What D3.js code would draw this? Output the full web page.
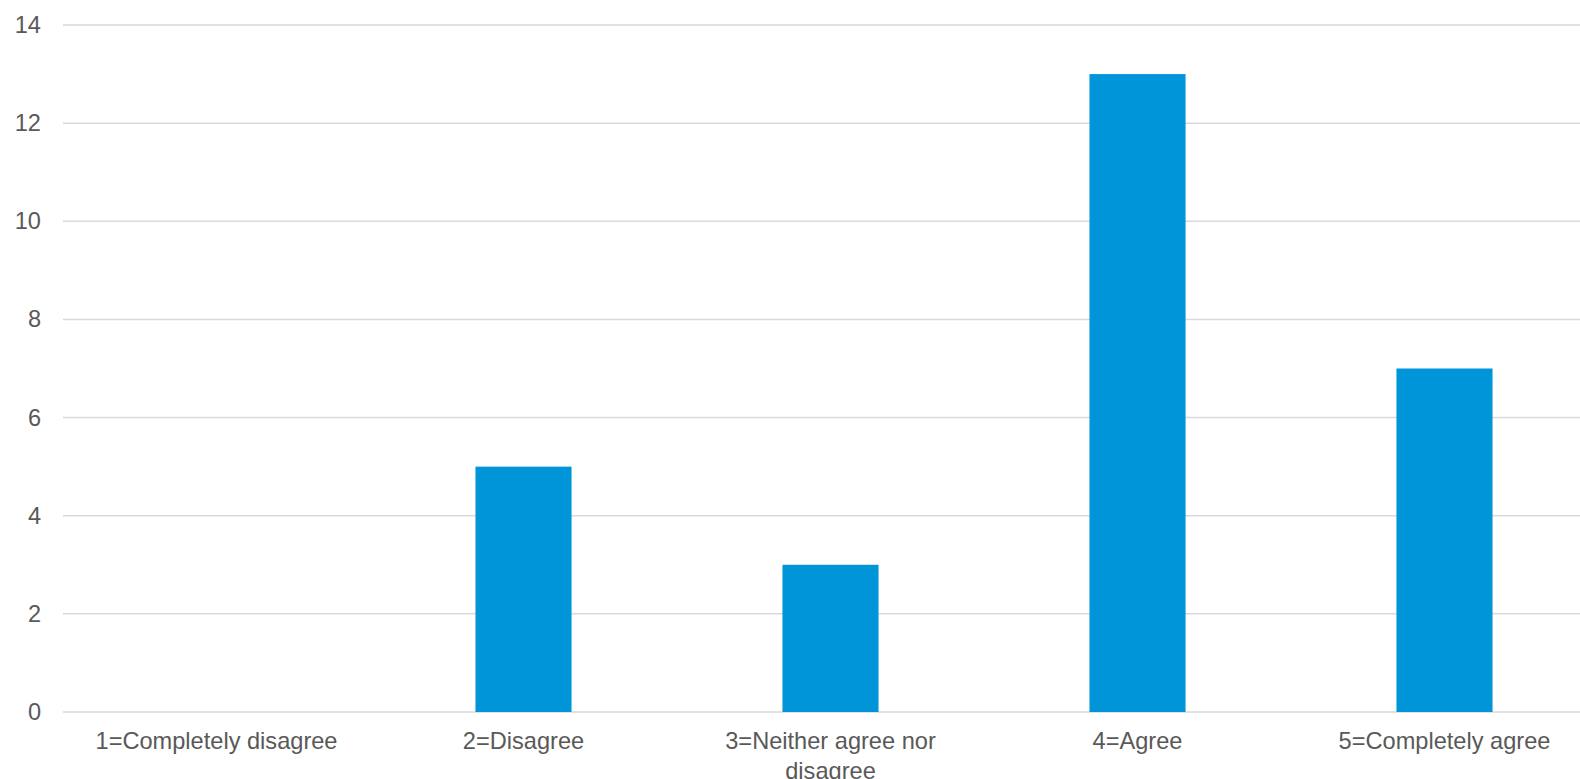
<!DOCTYPE html>
<html><head><meta charset="utf-8">
<script src="https://cdn.jsdelivr.net/npm/d3@7"></script>
<style>
html,body{margin:0;padding:0;background:#fff;overflow:hidden}
text{font-family:"Liberation Sans",Arial,sans-serif}
</style></head>
<body><svg id="c" width="1580" height="779"></svg>
<script>
const categories = ["1=Completely disagree","2=Disagree","3=Neither agree nor disagree","4=Agree","5=Completely agree"];
const values = [0,5,3,13,7];
const yTicks = [0,2,4,6,8,10,12,14];

(function(){
const svg = d3.select("#c");
const mLeft = 63, mRight = 1598, mTop = 25, mBottom = 712;
const x = d3.scaleBand().domain(categories).range([mLeft,mRight]).paddingInner(0.687).paddingOuter(0.3435);
const y = d3.scaleLinear().domain([0,14]).range([mBottom,mTop]);
const fs = 23.6, col = "#595959";

// gridlines
svg.append("g").selectAll("line").data(yTicks).join("line")
  .attr("x1",mLeft).attr("x2",1580)
  .attr("y1",d=>y(d)).attr("y2",d=>y(d))
  .attr("stroke","#d9d9d9").attr("stroke-width",1.5);

// y labels
const ya = d3.axisLeft(y).tickValues(yTicks).tickSize(0).tickPadding(22);
const gy = svg.append("g").attr("transform",`translate(${mLeft},0)`).call(ya);
gy.select(".domain").remove();
gy.selectAll("text").attr("font-size",fs).attr("fill",col).attr("font-family","Liberation Sans, Arial, sans-serif");

// bars
svg.append("g").selectAll("rect").data(values).join("rect")
  .attr("x",(d,i)=>x(categories[i]))
  .attr("width",x.bandwidth())
  .attr("y",d=>y(d))
  .attr("height",d=>y(0)-y(d))
  .attr("fill","#0095d9");

// x labels with wrapping
const xa = d3.axisBottom(x).tickSize(0).tickPadding(0);
const gx = svg.append("g").attr("transform",`translate(0,${mBottom})`).call(xa);
gx.select(".domain").remove();
gx.selectAll("text").attr("font-size",fs).attr("fill",col).attr("font-family","Liberation Sans, Arial, sans-serif")
  .attr("y",37).attr("dy",0)
  .each(function(d){
    const t = d3.select(this);
    const words = d.split(" ");
    const maxW = x.step() - 10;
    t.text(null);
    let line = [], lineNo = 0;
    let ts = t.append("tspan").attr("x",0).attr("y",37);
    for (const w of words){
      line.push(w);
      ts.text(line.join(" "));
      if (ts.node().getComputedTextLength() > maxW && line.length>1){
        line.pop(); ts.text(line.join(" "));
        line=[w]; lineNo++;
        ts = t.append("tspan").attr("x",0).attr("y",37+lineNo*29.5).text(w);
      }
    }
  });
})();
</script></body></html>
